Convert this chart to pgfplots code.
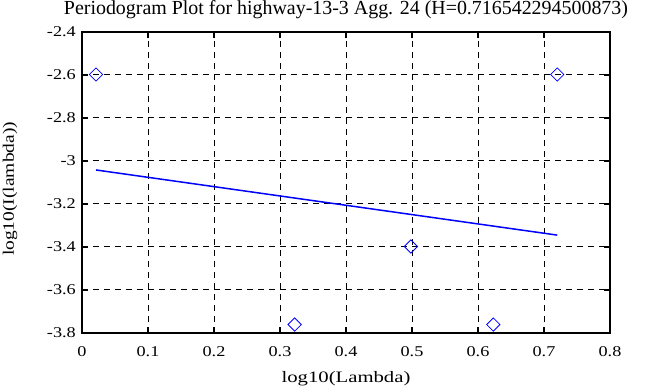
\documentclass[border=0pt]{standalone}
\usepackage{fontspec}
\setmainfont{Liberation Serif}
\newfontfamily\wide{Liberation Serif}[FakeStretch=1.22]
\newfontfamily\wider{Liberation Serif}[FakeStretch=1.3]
\usepackage{pgfplots}
\pgfplotsset{compat=1.18}
\definecolor{pblue}{RGB}{0,0,255}
\pgfplotstableread{
x y
0.0212 -2.600
0.3222 -3.763
0.4983 -3.400
0.6232 -3.763
0.7201 -2.600
}\pts
\pgfplotstableread{
x y
0.0212 -3.044
0.7201 -3.347
}\fit
\begin{document}
\begin{tikzpicture}
\begin{axis}[
  scale only axis, width=528bp, height=301bp,
  xmin=0, xmax=0.8, ymin=-3.8, ymax=-2.4,
  xtick={0,0.1,0.2,0.3,0.4,0.5,0.6,0.7,0.8},
  xticklabels={0,0.1,0.2,0.3,0.4,0.5,0.6,0.7,0.8},
  ytick={-3.8,-3.6,-3.4,-3.2,-3,-2.8,-2.6,-2.4},
  yticklabels={-3.8,-3.6,-3.4,-3.2,-3,-2.8,-2.6,-2.4},
  grid=major,
  major grid style={black, line width=0.8bp, dash pattern=on 6bp off 5bp},
  axis line style={black, line width=2bp},
  tick align=inside, major tick length=6bp,
  tick style={black, line width=2bp},
  tick label style={font=\wide\fontsize{15}{18}\selectfont},
  xticklabel style={anchor=base, yshift=-24bp},
  yticklabel style={anchor=east, inner sep=0pt, xshift=-6bp},
  title={Periodogram Plot for highway-13-3 Agg. 24 (H=0.716542294500873)},
  title style={font=\fontsize{20}{24}\selectfont, at={([yshift=11.5bp]axis description cs:0.5,1)}, anchor=base, inner sep=0pt},
  xlabel={log10(Lambda)},
  xlabel style={font=\wider\fontsize{16}{19}\selectfont, at={([yshift=-50bp]axis description cs:0.5,0)}, anchor=base, inner sep=0pt},
  ylabel={log10(I(lambda))},
  ylabel style={font=\wide\fontsize{16}{19}\selectfont, at={([xshift=-68bp]axis description cs:0,0.477)}, anchor=base, inner sep=0pt},
]
\addplot[pblue, line width=1.5bp] table[x=x,y=y] {\fit};
\addplot[only marks, mark=square, mark size=4.7bp, mark options={pblue, line width=0.8bp, rotate=45, fill=none}] table[x=x,y=y] {\pts};
\end{axis}
\path[use as bounding box] (-82bp,-55bp) rectangle (586bp,332bp);
\end{tikzpicture}
\end{document}
